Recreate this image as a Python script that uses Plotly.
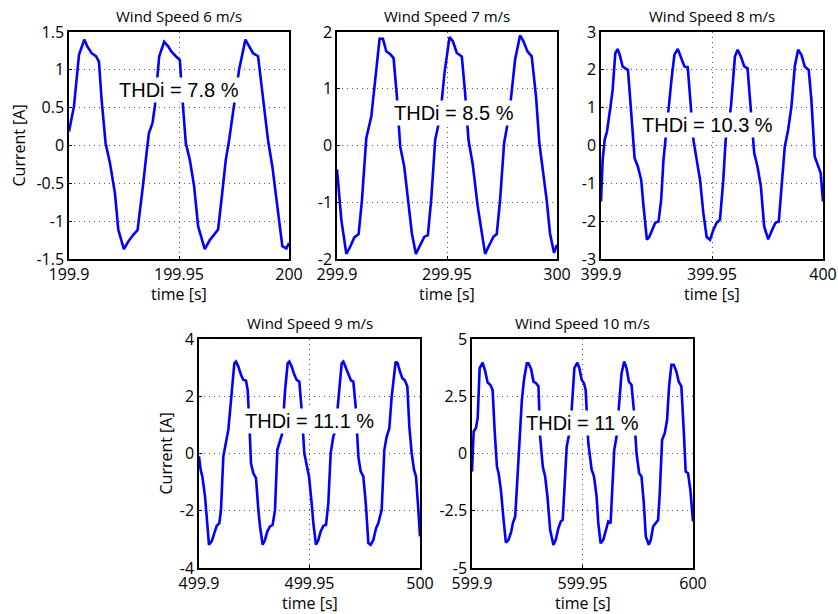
import plotly.graph_objects as go

W, H = 838, 614

# Wind speed cases
speeds = [6, 7, 8, 9, 10]
t_start = [199.9, 299.9, 399.9, 499.9, 599.9]
thdi = ["7.8", "8.5", "10.3", "11.1", "11"]

# Sample times (ms after window start) and phase current [A]
t6 = [0, 2.27, 4.54, 6.96, 8.32, 10.29, 12.25, 13.62, 14.83, 16.64, 18.61, 20.88, 22.39,
      24.96, 26.93, 29.2, 31.16, 32.22, 33.74, 35.25, 36.31, 37.97, 39.03, 41.0, 43.27,
      45.08, 46.6, 48.56, 50.38, 51.59, 53.1, 54.92, 56.88, 58.7, 61.72, 63.99, 65.81,
      67.78, 69.29, 71.26, 72.77, 74.89, 77.31, 80.18, 81.39, 83.66, 85.93, 88.2, 90.47,
      92.44, 94.25, 96.97, 98.79, 100]
i6 = [0.185, 0.52, 1.2, 1.4, 1.31, 1.22, 1.18, 1.11, 0.6, 0.03, -0.23, -0.63, -1.11,
      -1.37, -1.27, -1.18, -1.12, -0.89, -0.5, -0.1, 0.16, 0.3, 0.52, 1.18, 1.37,
      1.31, 1.24, 1.18, 1.13, 0.6, 0.03, -0.19, -0.54, -1.07, -1.37, -1.25, -1.18,
      -1.11, -0.72, -0.19, 0.07, 0.52, 1.0, 1.4, 1.33, 1.22, 1.18, 0.6, 0.07,
      -0.28, -0.72, -1.33, -1.36, -1.29]

t7 = [0, 1.97, 4.24, 6.05, 7.87, 9.83, 11.35, 13.31, 15.58, 17.40, 19.36, 20.88, 22.39,
      24.21, 25.72, 27.23, 28.74, 30.56, 32.53, 34.04, 35.85, 37.82, 39.64, 41.30, 42.81,
      44.63, 46.90, 48.87, 51.13, 52.65, 54.46, 56.73, 58.25, 59.76, 61.72, 63.99, 65.51,
      67.32, 69.29, 71.10, 72.62, 74.13, 75.95, 78.37, 80.94, 83.21, 84.72, 86.54, 88.50,
      90.47, 91.98, 93.80, 95.31, 96.82, 98.64, 100]
i7 = [-0.42, -1.31, -1.91, -1.78, -1.62, -1.56, -0.96, 0.13, 0.51, 1.22, 1.88, 1.88, 1.66,
      1.61, 1.54, 0.86, -0.02, -0.37, -1.08, -1.55, -1.91, -1.75, -1.61, -1.58, -0.96,
      0.1, 0.51, 1.28, 1.91, 1.84, 1.63, 1.57, 0.92, 0.1, -0.34, -1.08, -1.49,
      -1.91, -1.75, -1.61, -1.56, -0.96, 0.04, 0.57, 1.51, 1.94, 1.84, 1.66, 1.57,
      0.86, 0.04, -0.49, -0.96, -1.55, -1.89, -1.75]

t8 = [0, 0.75, 1.65, 2.69, 4.19, 5.24, 6.44, 7.49, 8.68, 9.73, 10.93, 12.13, 13.17,
      15.12, 16.62, 18.11, 19.16, 20.66, 21.71, 22.90, 24.40, 25.90, 27.10, 28.14, 29.19,
      30.39, 31.89, 33.08, 34.58, 36.08, 37.57, 39.07, 40.57, 41.62, 43.11, 44.61, 46.11,
      47.60, 49.10, 50.60, 52.10, 53.59, 55.09, 56.14, 57.34, 58.53, 60.33, 61.53, 63.02,
      64.52, 66.02, 67.51, 69.01, 70.51, 72.01, 73.50, 75.30, 77.10, 78.59, 80.09, 81.29,
      82.78, 84.28, 85.78, 87.28, 88.77, 90.27, 91.77, 93.56, 94.76, 96.26, 97.75, 98.95, 100]
i8 = [-1.48, -0.38, 0.15, 0.37, 0.99, 1.47, 2.44, 2.55, 2.35, 2.09, 2.04, 2.0, 1.21,
      -0.33, -0.56, -0.91, -1.61, -2.49, -2.42, -2.23, -2.04, -2.01, -1.44, -0.38, 0.33,
      0.94, 1.82, 2.40, 2.55, 2.31, 2.09, 2.07, 1.03, 0.15, -0.38, -0.91, -1.79,
      -2.42, -2.49, -2.23, -2.04, -1.96, -0.91, 0.15, 0.50, 1.03, 2.35, 2.53, 2.35,
      2.09, 2.04, 0.94, -0.2, -0.56, -1.08, -2.14, -2.48, -2.23, -2.04, -2.01, -1.08,
      -0.03, 0.41, 1.03, 2.09, 2.53, 2.40, 2.09, 2.0, 1.21, -0.29, -0.56, -0.73, -1.48]

t9 = [0, 0.75, 1.51, 2.71, 3.47, 4.52, 5.73, 6.94, 7.99, 9.20, 9.95, 11.01, 12.22,
      13.27, 14.78, 15.99, 16.74, 17.80, 19.00, 20.06, 21.27, 22.02, 22.78, 23.53, 24.59,
      25.79, 26.85, 27.60, 28.81, 29.86, 30.92, 32.13, 33.33, 34.39, 35.44, 36.65, 37.71,
      38.91, 40.12, 40.87, 41.93, 43.14, 44.19, 45.40, 46.46, 47.66, 48.72, 49.77, 50.98,
      51.73, 52.94, 54.00, 55.05, 56.26, 57.47, 58.52, 59.58, 60.78, 61.84, 63.05, 64.56,
      65.31, 66.52, 67.57, 68.78, 69.83, 70.89, 72.10, 73.15, 74.36, 75.57, 76.62, 77.68,
      78.88, 80.09, 81.15, 82.66, 83.86, 84.92, 86.12, 87.18, 88.99, 89.89, 90.95, 92.01,
      93.21, 94.27, 95.17, 96.23, 97.29, 98.19, 99.25, 100]
i9 = [-0.10, -0.57, -0.80, -1.50, -2.20, -3.19, -3.07, -2.78, -2.53, -2.43, -1.97, -0.10, 0.48,
      0.83, 2.11, 3.15, 3.21, 3.04, 2.75, 2.57, 2.55, 2.22, 1.06, -0.34, -0.69,
      -0.86, -1.97, -2.55, -3.19, -3.02, -2.72, -2.55, -2.49, -1.97, 0.13, 0.48, 0.71,
      2.17, 3.15, 3.21, 3.04, 2.75, 2.57, 2.51, 1.52, 0.01, -0.45, -0.80, -1.73,
      -2.43, -3.19, -3.02, -2.72, -2.53, -2.49, -1.73, 0.01, 0.59, 0.83, 1.99, 3.15,
      3.21, 2.98, 2.75, 2.55, 2.51, 1.64, -0.10, -0.62, -0.80, -1.85, -3.13, -3.19,
      -3.02, -2.62, -2.43, -1.97, 0.13, 0.59, 0.88, 1.99, 3.21, 3.15, 2.86, 2.63,
      2.55, 2.34, 0.94, 0.01, -0.57, -0.80, -1.97, -2.90]

t10 = [0, 0.75, 1.80, 2.56, 3.46, 4.81, 6.02, 7.07, 8.27, 9.32, 10.23, 11.28, 12.03,
       13.08, 14.29, 15.34, 16.54, 17.74, 18.50, 19.55, 20.60, 21.50, 22.56, 23.61, 24.81,
       25.56, 26.77, 27.82, 29.02, 30.08, 30.83, 32.03, 33.08, 34.14, 35.34, 36.84, 37.89,
       39.10, 40.15, 41.05, 42.11, 42.86, 44.06, 45.11, 46.32, 47.67, 48.57, 49.62, 50.68,
       51.43, 52.63, 54.14, 55.19, 56.39, 57.14, 58.20, 59.40, 60.45, 61.65, 62.71, 63.61,
       64.36, 65.41, 66.62, 67.67, 68.87, 69.92, 70.98, 72.18, 73.23, 74.44, 75.64, 76.69,
       77.74, 78.65, 80.00, 80.90, 81.95, 83.01, 84.21, 84.96, 86.02, 87.22, 88.27, 89.17,
       90.23, 91.28, 92.48, 93.53, 94.74, 95.79, 96.69, 97.74, 98.80, 100]
i10 = [-0.79, 0.96, 1.11, 1.54, 3.73, 3.97, 3.58, 3.10, 3.0, 2.78, 1.03, -0.57, -0.86,
       -1.59, -2.90, -3.89, -3.77, -3.41, -3.04, -2.75, -1.0, 0.74, 2.34, 3.29, 3.94,
       3.94, 3.68, 3.14, 3.07, 2.93, 0.74, -0.57, -1.0, -1.88, -3.33, -3.99, -3.77,
       -3.26, -2.97, -2.90, -1.30, 0.31, 0.89, 1.91, 3.73, 3.97, 3.73, 3.22, 3.07,
       2.78, 0.45, -0.71, -1.0, -1.88, -3.04, -3.92, -3.77, -3.33, -2.97, -3.04, -1.59,
       0.16, 0.74, 2.34, 3.51, 4.02, 3.73, 3.14, 3.0, 1.91, 0.01, -0.86, -1.0,
       -2.17, -3.62, -3.99, -3.77, -3.19, -3.04, -2.90, -1.73, 0.60, 0.89, 1.47, 2.93,
       3.87, 3.87, 3.58, 3.14, 2.93, 1.03, -0.79, -0.86, -1.59, -2.97]

times = [t6, t7, t8, t9, t10]
currents = [i6, i7, i8, i9, i10]

# Axis scales
y_limits = [(-1.5, 1.5), (-2, 2), (-3, 3), (-4, 4), (-5, 5)]
y_ticks = [[-1.5, -1, -0.5, 0, 0.5, 1, 1.5], [-2, -1, 0, 1, 2], [-3, -2, -1, 0, 1, 2, 3],
           [-4, -2, 0, 2, 4], [-5, -2.5, 0, 2.5, 5]]
y_ticklabels = [["-1.5", "-1", "-0.5", "0", "0.5", "1", "1.5"], ["-2", "-1", "0", "1", "2"],
                ["-3", "-2", "-1", "0", "1", "2", "3"], ["-4", "-2", "0", "2", "4"],
                ["-5", "-2.5", "0", "2.5", "5"]]
x_ticklabels = [["199.9", "199.95", "200"], ["299.9", "299.95", "300"],
                ["399.9", "399.95", "400"], ["499.9", "499.95", "500"],
                ["599.9", "599.95", "600"]]
# THDi label anchor (time offset in ms, current)
label_pos = [(50, 0.74), (53, 0.57), (48, 0.55), (50, 1.12), (50, 1.32)]

# Pixel boxes of the five axes: (left, right, top, bottom)
boxes = [(69, 289, 32, 259), (337, 557, 32, 259), (601, 823, 32, 259),
         (199, 420, 339, 568), (472, 693, 339, 568)]

FAMILY = "Open Sans"
TICK_FONT = dict(family=FAMILY, size=16, color="black")

fig = go.Figure()
annotations = []
for k in range(5):
    xa = "x" if k == 0 else f"x{k + 1}"
    ya = "y" if k == 0 else f"y{k + 1}"
    t0 = t_start[k]
    xs = [t0 + v / 1000.0 for v in times[k]]
    fig.add_trace(go.Scatter(x=xs, y=currents[k], mode="lines",
                             line=dict(color="#0000ff", width=2.6),
                             xaxis=xa, yaxis=ya, showlegend=False))
    l, r, tp, b = boxes[k]
    dom_x = [l / W, r / W]
    dom_y = [1 - b / H, 1 - tp / H]
    common = dict(showline=True, linecolor="black", linewidth=1.5, mirror=True,
                  showgrid=True, gridcolor="#555555", griddash="1px,4px", gridwidth=1,
                  zeroline=False, ticks="inside", ticklen=3, tickcolor="black",
                  tickfont=TICK_FONT, automargin=False)
    xkey = "xaxis" if k == 0 else f"xaxis{k + 1}"
    ykey = "yaxis" if k == 0 else f"yaxis{k + 1}"
    fig.update_layout(**{
        xkey: dict(domain=dom_x, anchor=ya, range=[t0, t0 + 0.1],
                   tickvals=[t0, t0 + 0.05, t0 + 0.1], ticktext=x_ticklabels[k],
                   **common),
        ykey: dict(domain=dom_y, anchor=xa, range=list(y_limits[k]),
                   tickvals=y_ticks[k], ticktext=y_ticklabels[k],
                   **common),
    })
    # panel title
    annotations.append(dict(text=f"Wind Speed {speeds[k]} m/s", xref="paper", yref="paper",
                            x=(l + r) / 2 / W, y=1 - (tp - 4) / H, xanchor="center",
                            yanchor="bottom", showarrow=False,
                            font=dict(family=FAMILY, size=15, color="black")))
    # x axis title
    annotations.append(dict(text="time [s]", xref="paper", yref="paper",
                            x=(l + r) / 2 / W, y=1 - (b + 35) / H, xanchor="center",
                            yanchor="middle", showarrow=False,
                            font=dict(family=FAMILY, size=16, color="black")))
    # y axis title on the left-hand panels
    if k in (0, 3):
        off = 51 if k == 0 else 34
        annotations.append(dict(text="Current [A]", xref="paper", yref="paper",
                                x=(l - off) / W, y=1 - (tp + b) / 2 / H, xanchor="center",
                                yanchor="middle", textangle=-90, showarrow=False,
                                font=dict(family=FAMILY, size=16, color="black")))
    # THDi label
    lx, ly = label_pos[k]
    annotations.append(dict(text=f"THDi = {thdi[k]} %", xref=xa, yref=ya,
                            x=t0 + lx / 1000.0, y=ly, showarrow=False,
                            bgcolor="white", borderpad=1,
                            font=dict(family="Liberation Sans", size=20, color="black")))

fig.update_layout(width=W, height=H, margin=dict(l=0, r=0, t=0, b=0),
                  paper_bgcolor="white", plot_bgcolor="white",
                  annotations=annotations)

fig.write_html("out.html")
